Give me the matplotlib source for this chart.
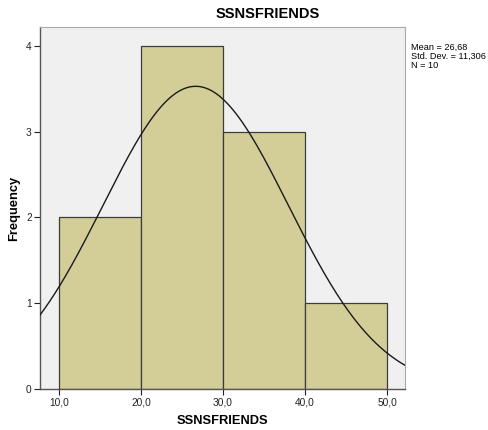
import numpy as np
import matplotlib.pyplot as plt
from matplotlib.ticker import FuncFormatter

plt.rcParams['font.family'] = ['Liberation Sans', 'DejaVu Sans']

# Histogram data: bin edges and counts
bin_edges = [10, 20, 30, 40, 50]
counts = [2, 4, 3, 1]
mean_val = 26.68
std_val = 11.306
n_val = 10

fig = plt.figure(figsize=(4.89, 4.30), dpi=100)
ax = fig.add_axes([40 / 489, 41 / 430, 365 / 489, 362 / 430])
ax.set_facecolor('#f0f0f0')

widths = np.diff(bin_edges)
ax.bar(bin_edges[:-1], counts, width=widths, align='edge',
       color='#d3ce97', edgecolor='#3c3c3c', linewidth=0.9, zorder=2)

# normal curve scaled to counts
x = np.linspace(7.7, 52.2, 300)
bw = widths[0]
y = n_val * bw / (std_val * np.sqrt(2 * np.pi)) * np.exp(-0.5 * ((x - mean_val) / std_val) ** 2)
ax.plot(x, y, color='#1a1a1a', linewidth=1.0, zorder=3)

ax.set_xlim(7.7, 52.2)
ax.set_ylim(0, 4.22)
ax.set_xticks(bin_edges)
ax.set_yticks([0, 1, 2, 3, 4])
ax.xaxis.set_major_formatter(FuncFormatter(lambda v, p: f'{v:.1f}'.replace('.', ',')))
ax.yaxis.set_major_formatter(FuncFormatter(lambda v, p: f'{int(v)}'))
ax.tick_params(labelsize=7.3, length=4, width=0.8, pad=2, colors='#222222')

for side in ['left', 'bottom']:
    ax.spines[side].set_color('#555555')
    ax.spines[side].set_linewidth(1.0)
for side in ['top', 'right']:
    ax.spines[side].set_color('#aaaaaa')
    ax.spines[side].set_linewidth(0.8)

ax.set_xlabel('SSNSFRIENDS', fontsize=9.3, fontweight='bold')
ax.xaxis.set_label_coords(0.5, -0.088)
ax.set_ylabel('Frequency', fontsize=9.3, fontweight='bold')
ax.yaxis.set_label_coords(-0.071, 0.5)
ax.xaxis.label.set_va('center')
ax.yaxis.label.set_va('center')
fig.text(268 / 489, 1 - 14 / 430, 'SSNSFRIENDS', fontsize=10.5, fontweight='bold',
         ha='center', va='center')

stats = f'Mean = {mean_val:.2f}\nStd. Dev. = {std_val:.3f}\nN = {n_val}'.replace('.', ',').replace('Std, Dev,', 'Std. Dev.')
fig.text(411 / 489, 1 - 43 / 430, stats, fontsize=6.6, ha='left', va='top', linespacing=1.0)

fig.savefig('out.png', dpi=100)
